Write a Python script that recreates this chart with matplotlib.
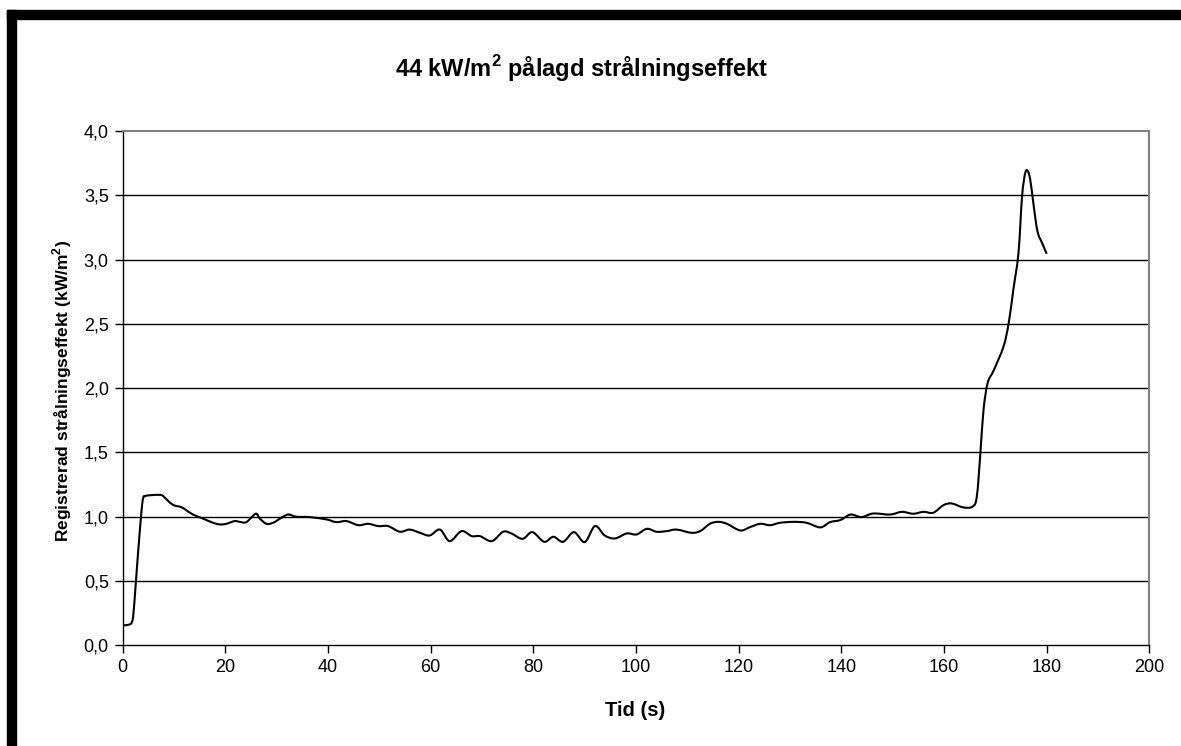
import numpy as np
import matplotlib
matplotlib.use("Agg")
import matplotlib.pyplot as plt
from matplotlib.path import Path
from matplotlib.patches import PathPatch, Rectangle

plt.rcParams['font.family'] = ['Liberation Sans', 'DejaVu Sans']
plt.rcParams['mathtext.fontset'] = 'custom'
plt.rcParams['mathtext.rm'] = 'Liberation Sans'
plt.rcParams['mathtext.bf'] = 'Liberation Sans:bold'

# registered radiant flux vs time
tid = [0, 1.2, 1.8, 2.1, 2.6, 3.3, 3.9, 4.4, 5.3, 7.2, 7.9, 9.1, 10.1, 11.4,
       12.4, 13.7, 15.6, 17.6, 18.9, 20.2, 21.8, 22.8, 24.1, 25.9, 26.7, 28.0,
       29.3, 30.6, 32.2, 33.8, 36.4, 39.7, 41.6, 43.6, 45.9, 47.8, 49.8, 51.7,
       54.0, 55.9, 57.9, 59.8, 61.8, 63.7, 66.0, 68.0, 69.6, 71.9, 74.1, 75.7,
       77.9, 79.8, 82.1, 83.9, 85.8, 87.9, 90.0, 92.0, 93.9, 95.9, 98.2,
       100.1, 102.1, 104.0, 106.0, 107.9, 110.8, 112.5, 114.4, 116.0, 117.7,
       120.3, 122.2, 124.2, 126.1, 128.1, 130.7, 133.2, 135.9, 137.8, 139.8,
       141.8, 143.9, 146.2, 149.5, 151.8, 154.0, 156.0, 157.9, 159.9, 161.5,
       163.8, 165.6, 166.4, 167.1, 167.7, 168.5, 169.7, 171.6, 172.6, 173.5,
       174.5, 175.2, 175.8, 176.3, 176.8, 177.4, 178.2, 179.1, 180.0]
effekt = [0.155, 0.16, 0.18, 0.25, 0.51, 0.875, 1.13, 1.16, 1.167, 1.17,
          1.16, 1.113, 1.087, 1.075, 1.05, 1.017, 0.986, 0.953, 0.94, 0.945,
          0.966, 0.96, 0.958, 1.023, 0.986, 0.945, 0.953, 0.984, 1.017, 1.0,
          0.997, 0.979, 0.958, 0.966, 0.934, 0.945, 0.927, 0.927, 0.883, 0.9,
          0.875, 0.854, 0.9, 0.81, 0.888, 0.849, 0.849, 0.81, 0.883, 0.87,
          0.828, 0.88, 0.805, 0.844, 0.805, 0.88, 0.803, 0.927, 0.854, 0.831,
          0.87, 0.862, 0.906, 0.883, 0.888, 0.9, 0.875, 0.888, 0.945, 0.96,
          0.945, 0.893, 0.919, 0.945, 0.934, 0.953, 0.96, 0.953, 0.917, 0.958,
          0.974, 1.017, 0.997, 1.025, 1.017, 1.038, 1.023, 1.038, 1.031, 1.09,
          1.103, 1.072, 1.08, 1.16, 1.504, 1.833, 2.04, 2.14, 2.325, 2.506,
          2.765, 3.05, 3.49, 3.67, 3.69, 3.62, 3.44, 3.22, 3.13, 3.045]

yticks = [0.0, 0.5, 1.0, 1.5, 2.0, 2.5, 3.0, 3.5, 4.0]
ytick_labels = ["0,0", "0,5", "1,0", "1,5", "2,0", "2,5", "3,0", "3,5", "4,0"]
xticks = [0, 20, 40, 60, 80, 100, 120, 140, 160, 180, 200]


def smooth_path(x, y, k=1 / 6):
    # Bezier curve through every point (Catmull-Rom style control points)
    p = np.column_stack([x, y])
    verts = [p[0]]
    codes = [Path.MOVETO]
    n = len(p)
    for i in range(n - 1):
        p0 = p[i - 1] if i > 0 else p[i]
        p3 = p[i + 2] if i + 2 < n else p[i + 1]
        c1 = p[i] + (p[i + 1] - p0) * k
        c2 = p[i + 1] - (p3 - p[i]) * k
        verts += [c1, c2, p[i + 1]]
        codes += [Path.CURVE4] * 3
    return Path(verts, codes)


fig = plt.figure(figsize=(11.81, 7.46), dpi=100)
ax = fig.add_axes([0.1039, 0.135, 0.8693, 0.6894])

for v in yticks[1:-1]:
    ax.axhline(v, color="black", lw=1.0, zorder=1)

ax.add_patch(PathPatch(smooth_path(tid, effekt), facecolor="none",
                       edgecolor="black", lw=1.5, zorder=3))

ax.set_xlim(0, 200)
ax.set_ylim(0, 4.0)
ax.set_xticks(xticks)
ax.set_yticks(yticks)
ax.set_yticklabels(ytick_labels)
ax.tick_params(direction="out", length=6, width=1, labelsize=13,
               color="black", pad=4)

for side in ("left", "bottom"):
    ax.spines[side].set_color("black")
    ax.spines[side].set_linewidth(1.0)
for side in ("top", "right"):
    ax.spines[side].set_color("#808080")
    ax.spines[side].set_linewidth(1.5)

fig.text(0.492, 0.908, r"44 kW/m$^\mathbf{2}$ pålagd strålningseffekt",
         ha="center", va="center", fontsize=17, fontweight="bold")
fig.text(0.538, 0.047, "Tid (s)", ha="center", va="center",
         fontsize=14.5, fontweight="bold")
fig.text(0.0525, 0.476, r"Registrerad strålningseffekt (kW/m$^\mathbf{2}$)",
         ha="center", va="center", rotation=90, fontsize=12.5,
         fontweight="bold")

# thick frame along the top and left edges
fig.patches.append(Rectangle((7 / 1181, 0), 9 / 1181, 1 - 10 / 746,
                             transform=fig.transFigure, color="black"))
fig.patches.append(Rectangle((7 / 1181, 1 - 19 / 746), 1, 9 / 746,
                             transform=fig.transFigure, color="black"))

fig.savefig("out.png", dpi=100)
